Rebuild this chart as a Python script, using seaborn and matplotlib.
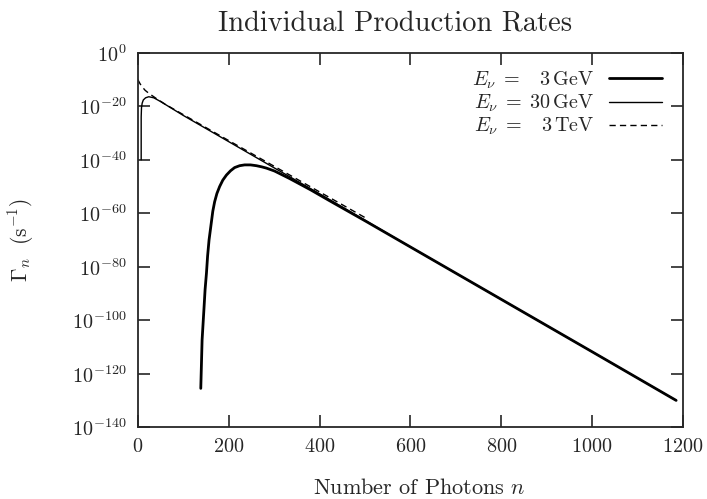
import numpy as np
import pandas as pd
import matplotlib
matplotlib.use("Agg")
import matplotlib.pyplot as plt
import seaborn as sns
from matplotlib.ticker import NullLocator, LogFormatterSciNotation

sns.set_style("ticks")
plt.rcParams['font.family'] = ['cmr10', 'DejaVu Serif']
plt.rcParams['mathtext.fontset'] = 'cm'
plt.rcParams['axes.formatter.use_mathtext'] = True
plt.rcParams['axes.unicode_minus'] = False

# log10 of the rate
n_3gev = [138.5, 141.4, 145.8, 148, 151, 153.5, 156.7, 162, 165, 169, 174, 180, 187,
          195, 204, 213, 224, 235, 248, 261, 272, 283, 301, 334, 380, 422, 500,
          600, 800, 1000, 1185]
log_3gev = [-125.5, -107.4, -94.9, -88.5, -82.4, -76.0, -70.0, -63.1, -59.2, -55.7,
            -52.6, -50.0, -47.6, -45.7, -44.1, -42.9, -42.2, -41.9, -41.9, -42.2,
            -42.6, -43.1, -44.2, -47.0, -51.2, -55.3, -62.8, -72.6, -92.2, -111.8, -130.0]

n_30gev = [7.3, 7.3, 8, 9.5, 12, 17, 24, 35, 50, 100, 200, 300, 400, 500, 600, 800, 1000, 1185]
log_30gev = [-40, -24, -20.5, -18.8, -17.6, -16.8, -16.4, -16.8, -18.2, -23.4,
             -33.2, -43.0, -52.7, -62.6, -72.6, -92.2, -111.8, -130.0]

n_3tev = [0, 5, 10, 16, 24, 40, 60, 101, 200, 300, 400, 500]
log_3tev = [-10, -11.6, -12.8, -14, -15.1, -17, -19.2, -23.2, -32.8, -42.4, -52, -61.6]

labels = [r'$E_\nu \;=\;\ \ 3\,\mathrm{GeV}$',
          r'$E_\nu \;=\; 30\,\mathrm{GeV}$',
          r'$E_\nu \;=\;\ \ 3\,\mathrm{TeV}$']

fig = plt.figure(figsize=(7.07, 4.99), dpi=100)
ax = fig.add_axes([0.195, 0.144, 0.771, 0.750])

curves = [(n_3gev, log_3gev, 2.0, '-'),
          (n_30gev, log_30gev, 1.0, '-'),
          (n_3tev, log_3tev, 1.0, (0, (4.5, 3)))]
for (n, lg, lw, ls), lab in zip(curves, labels):
    df = pd.DataFrame({'n': n, 'rate': 10.0 ** np.array(lg)})
    sns.lineplot(data=df, x='n', y='rate', ax=ax, estimator=None, sort=False,
                 color='black', linewidth=lw, linestyle=ls, label=lab)

ax.set_yscale('log')
ax.set_xlim(0, 1200)
ax.set_ylim(1e-140, 1e0)
ax.set_xticks([0, 200, 400, 600, 800, 1000, 1200])
ax.set_yticks([10.0 ** -k for k in range(0, 141, 20)])
ax.yaxis.set_major_formatter(LogFormatterSciNotation())
ax.yaxis.set_minor_locator(NullLocator())
ax.tick_params(direction='in', length=8.5, width=1.2, top=True, right=True,
               labelsize=14.5, pad=8)
for s in ax.spines.values():
    s.set_linewidth(1.3)

ax.set_xlabel(r'Number of Photons $n$', fontsize=16, labelpad=16, x=0.517)
ax.set_ylabel(r'$\Gamma_n\ \ (\mathrm{s}^{-1})$', fontsize=15.5, labelpad=26)
ax.set_title('Individual Production Rates', fontsize=20.5, pad=16, x=0.472)

leg = ax.legend(loc='upper right', bbox_to_anchor=(0.976, 0.978), frameon=False,
                markerfirst=False, fontsize=14.5, handlelength=2.6, handletextpad=0.75,
                labelspacing=0.1, borderaxespad=0.0)
for t in leg.get_texts():
    t.set_ha('right')

fig.savefig('out.png', dpi=100)
